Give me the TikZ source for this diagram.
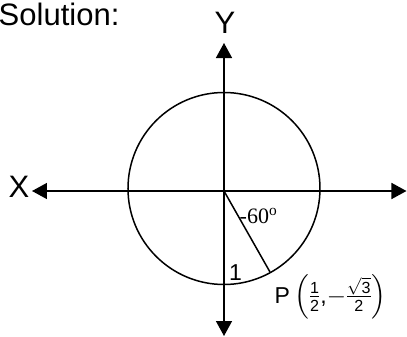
\documentclass[tikz,border=0pt]{standalone}
\usepackage{amsmath}
\usepackage{fontspec}
\setmainfont{Liberation Sans}
\newfontfamily\timesfont{Liberation Serif}
\usetikzlibrary{arrows.meta,calc}

\begin{document}
\begin{tikzpicture}[x=1bp, y=1bp, line width=1.5bp,
    axis/.style={{Triangle[length=15bp,width=16bp]}-{Triangle[length=15bp,width=16bp]}},
    every node/.style={inner sep=0pt, font=\fontsize{31bp}{36bp}\selectfont}]
  \useasboundingbox (-224,-146) rectangle (183,191);
  % axes and unit circle
  \coordinate (o) at (0,0);
  \coordinate (xl) at (-192,0);
  \coordinate (xr) at (182.5,0);
  \coordinate (yt) at (0,148);
  \coordinate (yb) at (0,-145);
  \coordinate (p) at (46,-81);
  \draw (0,2.5) circle (96);
  \draw[axis] (xl) -- (xr);
  \draw[axis] (yb) -- (yt);
  \draw (o) -- (p);
  % labels
  \node[anchor=base west] (sol) at (-226,166) {Solution:};
  \node[anchor=base] (ylab) at (1,158) {Y};
  \node[anchor=base] (xlab) at (-205,-6) {X};
  \node[anchor=base, font=\fontsize{23bp}{26bp}\selectfont] (one) at (11.5,-89) {1};
  \node[anchor=base west, font=\timesfont\fontsize{22bp}{26bp}\selectfont] (ang) at (15,-32) {-60\textsuperscript{o}};
  \node[anchor=base west, font=\fontsize{23bp}{28bp}\selectfont] (plab) at (50,-112)
    {P$\,\Bigl(\frac{\text{1}}{\text{2}}\text{,}{-}\frac{\sqrt{\text{3}}}{\text{2}}\Bigr)$};
\end{tikzpicture}
\end{document}
